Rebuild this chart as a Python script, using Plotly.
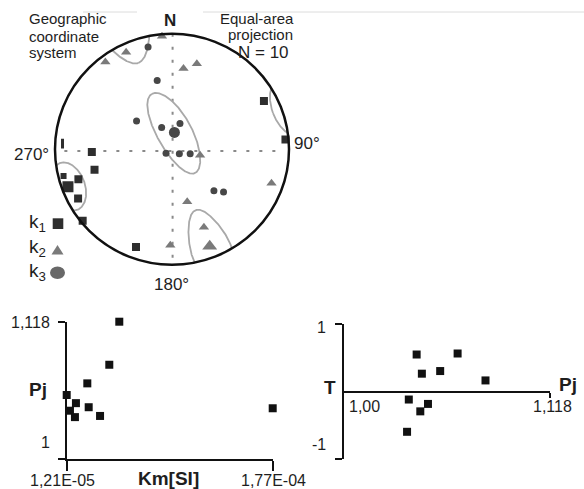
import numpy as np
import plotly.graph_objects as go

W, H = 584, 489

# Principal susceptibility axes of the 10 specimens (trend, plunge in degrees)
k1_trend = [268, 255, 252, 256, 242, 231, 200, 62, 85, 273]
k1_plunge = [32, 32, 17, 5, 10, 2, 11, 12, 3, 7]
k2_trend = [355, 335, 323, 8, 16, 102, 109, 164, 158, 181]
k2_plunge = [2, 8, 6, 30, 24, 70, 11, 51, 28, 18]
k3_trend = [347, 348, 309, 335, 17, 236, 122, 104, 135, 130]
k3_plunge = [10, 39, 58, 73, 71, 85, 84, 77, 48, 42]

# Mean axes (k1, k2, k3) and their confidence ellipses (half-angles, degrees)
mean_trend = [250, 159, 8]
mean_plunge = [6, 11, 78]
conf_major = [15, 32, 32]
conf_minor = [13, 10.5, 12]
conf_rotation = [0, 0, -36]

# Scalar parameters per specimen
km = [5.42e-5, 4.62e-5, 2.86e-5, 1.21e-5, 1.95e-5, 1.47e-5, 2.97e-5, 1.87e-5, 3.88e-5, 1.77e-4]
pj = [1.118, 1.081, 1.065, 1.055, 1.048, 1.0415, 1.0445, 1.036, 1.037, 1.0436]
t_shape = [None, 0.164, 0.563, 0.303, -0.184, 0.548, 0.264, -0.597, -0.119, -0.294]

km_ticks = ["1,21E-05", "1,77E-04"]
pj_ticks = ["1", "1,118"]
pj_axis_ticks = ["1,00", "1,118"]
t_ticks = ["-1", "1"]

FONT = "Arial, Liberation Sans, sans-serif"
INK = "#1e1e1e"
C_K1, C_K2, C_K3 = "#2e2e2e", "#7a7a7a", "#474747"


def px(x):
    return x / W


def py(y):
    return 1 - y / H


def project(trend, plunge):
    """Lower-hemisphere equal-area (Schmidt) projection, unit primitive."""
    t = np.radians(np.asarray(trend, float))
    p = np.radians(np.asarray(plunge, float))
    r = np.sqrt(1 - np.sin(p))
    return r * np.sin(t), r * np.cos(t)


def cone_outline(trend, plunge, major, minor, rot, n=500):
    """Confidence ellipse around a mean axis, folded onto the lower hemisphere."""
    t, p, w = np.radians(trend), np.radians(plunge), np.radians(rot)
    m = np.array([np.cos(p) * np.cos(t), np.cos(p) * np.sin(t), np.sin(p)])
    u0 = np.array([np.sin(p) * np.cos(t), np.sin(p) * np.sin(t), -np.cos(p)])
    v0 = np.array([-np.sin(t), np.cos(t), 0.0])
    u = np.cos(w) * u0 + np.sin(w) * v0
    v = -np.sin(w) * u0 + np.cos(w) * v0
    s = np.linspace(0, 2 * np.pi, n)
    pts = (m[:, None] + np.tan(np.radians(major)) * np.cos(s) * u[:, None]
           + np.tan(np.radians(minor)) * np.sin(s) * v[:, None])
    pts /= np.linalg.norm(pts, axis=0)
    up = pts[2] < 0
    pts[:, up] *= -1
    x = pts[1] / np.sqrt(1 + pts[2])
    y = pts[0] / np.sqrt(1 + pts[2])
    xs, ys, prev = [], [], None
    for i in range(n):
        if prev is not None and up[i] != prev:
            xs.append(None)
            ys.append(None)
        xs.append(x[i])
        ys.append(y[i])
        prev = up[i]
    return xs, ys


fig = go.Figure()

# ---- stereonet ----
for i in range(3):
    ex, ey = cone_outline(mean_trend[i], mean_plunge[i], conf_major[i],
                          conf_minor[i], conf_rotation[i])
    fig.add_trace(go.Scatter(x=ex, y=ey, mode="lines", xaxis="x", yaxis="y",
                             line=dict(color="#a9a9a9", width=1.8), hoverinfo="skip"))

x2, y2 = project(k2_trend, k2_plunge)
fig.add_trace(go.Scatter(x=x2, y=y2, mode="markers", xaxis="x", yaxis="y",
                         marker=dict(symbol="triangle-up", size=9, color=C_K2, opacity=1,
                                     line=dict(width=0))))

x1, y1 = project(k1_trend, k1_plunge)
k1_sizes = [8, 8, 8, 6, 8, 8, 8, 8, 8]
fig.add_trace(go.Scatter(x=x1[:9], y=y1[:9], mode="markers", xaxis="x", yaxis="y",
                         marker=dict(symbol="square", size=k1_sizes, color=C_K1, opacity=1,
                                     line=dict(width=0))))
# the tenth k1 axis is mostly hidden, only a thin sliver shows
fig.add_trace(go.Scatter(x=x1[9:], y=y1[9:], mode="markers", xaxis="x", yaxis="y",
                         marker=dict(symbol="line-ns", size=7, opacity=1,
                                     line=dict(color=C_K1, width=3))))

x3, y3 = project(k3_trend, k3_plunge)
fig.add_trace(go.Scatter(x=x3, y=y3, mode="markers", xaxis="x", yaxis="y",
                         marker=dict(symbol="circle", size=7, color=C_K3, opacity=1,
                                     line=dict(width=0))))

mx, my = project(mean_trend, mean_plunge)
for i, (sym, sz, col) in enumerate([("square", 11, C_K1), ("triangle-up", 13, C_K2),
                                    ("circle", 11, C_K3)]):
    fig.add_trace(go.Scatter(x=[mx[i]], y=[my[i]], mode="markers", xaxis="x", yaxis="y",
                             marker=dict(symbol=sym, size=sz, color=col, opacity=1,
                                         line=dict(width=0))))

# ---- Pj vs Km ----
fig.add_trace(go.Scatter(x=km, y=pj, mode="markers", xaxis="x2", yaxis="y2", cliponaxis=False,
                         marker=dict(symbol="square", size=8, color="#111111", opacity=1,
                                     line=dict(width=0))))

# ---- T vs Pj ----
fig.add_trace(go.Scatter(x=pj, y=t_shape, mode="markers", xaxis="x3", yaxis="y3", cliponaxis=False,
                         marker=dict(symbol="square", size=8, color="#111111", opacity=1,
                                     line=dict(width=0))))

# stereonet frame geometry (pixels)
CX, CY, SX, SY, RNG = 172.0, 149.3, 117.0, 115.5, 1.25

shapes = [
    dict(type="circle", xref="x", yref="y", x0=-1, x1=1, y0=-1, y1=1,
         line=dict(color="#111111", width=2.5)),
    dict(type="line", xref="x", yref="y", x0=-0.92, x1=0.93, y0=-0.015, y1=-0.015,
         line=dict(color="#8a8a8a", width=2, dash="3px,10px"), layer="below"),
    dict(type="line", xref="x", yref="y", x0=0.005, x1=0.005, y0=1.0, y1=-0.94,
         line=dict(color="#8a8a8a", width=2, dash="3px,10px"), layer="below"),
    # faint rules at the top
    dict(type="line", xref="paper", yref="paper", x0=px(83), x1=px(137), y0=py(12), y1=py(12),
         line=dict(color="#dcdcdc", width=1)),
    dict(type="line", xref="paper", yref="paper", x0=px(203), x1=px(584), y0=py(12), y1=py(12),
         line=dict(color="#dcdcdc", width=1)),
    # legend keys
    dict(type="rect", xref="paper", yref="paper", x0=px(52.7), x1=px(63.3), y0=py(229), y1=py(218.3),
         fillcolor=C_K1, line=dict(width=0)),
    dict(type="path", xref="paper", yref="paper",
         path=f"M {px(51.5)},{py(254.5)} L {px(63.5)},{py(254.5)} L {px(57.5)},{py(245)} Z",
         fillcolor=C_K2, line=dict(width=0)),
    dict(type="circle", xref="paper", yref="paper", x0=px(50), x1=px(65), y0=py(279), y1=py(266.5),
         fillcolor="#686868", line=dict(width=0)),
]


def ann(text, x, y, size=15, xanchor="center", bold=False, color=INK):
    if bold:
        text = f"<b>{text}</b>"
    return dict(text=text, x=px(x), y=py(y), xref="paper", yref="paper", showarrow=False,
                xanchor=xanchor, yanchor="middle", font=dict(family=FONT, size=size, color=color))


annotations = [
    ann("Geographic", 27, 19, 15, "left"),
    ann("coordinate", 27, 36, 15, "left"),
    ann("system", 27, 53, 15, "left"),
    ann("Equal-area", 296, 18, 15, "right"),
    ann("projection", 295, 35, 15, "right"),
    ann("N = 10", 291, 53, 17, "right"),
    ann("N", 170.5, 21, 17, bold=True),
    ann("90°", 292, 143, 17, "left"),
    ann("270°", 51, 154, 17, "right"),
    ann("180°", 171, 284, 17),
    ann("k<sub>1</sub>", 27, 223, 19, "left"),
    ann("k<sub>2</sub>", 27, 248, 19, "left"),
    ann("k<sub>3</sub>", 27, 272, 19, "left"),
    # Pj vs Km
    ann("Pj", 37.5, 389, 19, bold=True),
    ann("Km[SI]", 168, 478, 19, bold=True),
    ann(pj_ticks[1], 52, 322, 16, "right"),
    ann(pj_ticks[0], 52, 442, 16, "right"),
    ann(km_ticks[0], 62.5, 480, 16),
    ann(km_ticks[1], 273, 480, 16),
    # T vs Pj
    ann("T", 330, 387, 19, bold=True),
    ann("Pj", 557, 384, 19, "left", bold=True),
    ann(t_ticks[1], 328, 327, 16, "right"),
    ann(t_ticks[0], 328, 444, 16, "right"),
    ann(pj_axis_ticks[0], 347, 406, 16, "left"),
    ann(pj_axis_ticks[1], 552, 406, 16),
]

axis_common = dict(showgrid=False, zeroline=False, showline=True, linecolor="#111111",
                   linewidth=2, ticks="outside", tickcolor="#111111", tickwidth=2,
                   automargin=False, showticklabels=False)

t_zero_px = 459 - (0 - (-1)) / 2 * (459 - 324)

fig.update_layout(
    width=W, height=H, margin=dict(l=0, r=0, t=0, b=0, autoexpand=False),
    paper_bgcolor="white", plot_bgcolor="white", showlegend=False,
    xaxis=dict(domain=[px(CX - RNG * SX), px(CX + RNG * SX)], range=[-RNG, RNG],
               visible=False, fixedrange=True, automargin=False),
    yaxis=dict(domain=[py(CY + RNG * SY), py(CY - RNG * SY)], range=[-RNG, RNG],
               visible=False, anchor="x", fixedrange=True, automargin=False),
    xaxis2=dict(domain=[px(66.7), px(272.7)], range=[min(km), max(km)], anchor="y2",
                tickvals=[min(km), max(km)], ticklen=10, **axis_common),
    yaxis2=dict(domain=[py(459), py(321.7)], range=[1.0, max(pj)], anchor="x2",
                tickvals=[1.0, max(pj)], ticklen=7, **axis_common),
    xaxis3=dict(domain=[px(344.3), px(550)], range=[1.0, max(pj)], anchor="free",
                position=py(t_zero_px), tickvals=[max(pj)], ticklen=5, **axis_common),
    yaxis3=dict(domain=[py(459), py(324)], range=[-1, 1], anchor="x3",
                tickvals=[-1, 1], ticklen=7, **axis_common),
    shapes=shapes, annotations=annotations,
)

fig.write_html("out.html")
